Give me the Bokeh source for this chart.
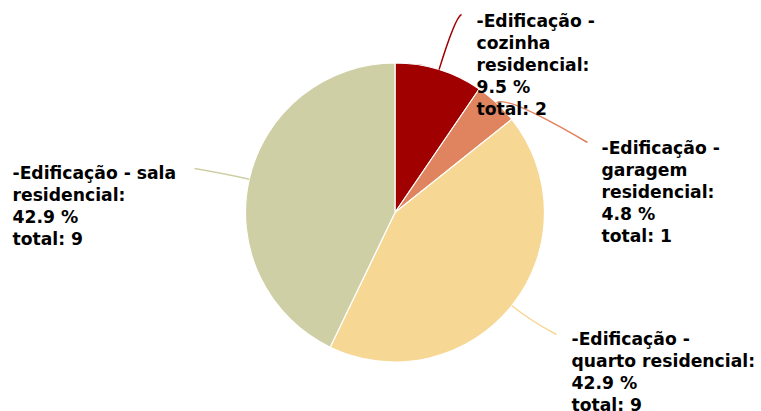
import math
from bokeh.plotting import figure
from bokeh.models import Range1d
from bokeh.embed import file_html
from bokeh.resources import INLINE
from bokeh.core.properties import value

# ---- data ----
categories = ["-Edificação - cozinha residencial", "-Edificação - garagem residencial",
              "-Edificação - quarto residencial", "-Edificação - sala residencial"]
totals = [2, 1, 9, 9]
colors = ["#a00000", "#e0835f", "#f7d794", "#cfcfa5"]
label_lines = [
    ["-Edificação -", "cozinha", "residencial:"],
    ["-Edificação -", "garagem", "residencial:"],
    ["-Edificação -", "quarto residencial:"],
    ["-Edificação - sala", "residencial:"],
]

# ---- layout (reference pixel coords, y down) ----
W, H = 761, 411
CX, CY, R = 394.5, 212, 149.5
label_pos = [(476, 20), (601, 147), (571, 338), (12, 172)]   # x, first baseline
conn_end = [(461, 14), (587, 142), (556, 334), (194, 168)]
conn_k = [55, 12, 25, 25]
LINE_H = 22

def fy(y):
    return H - y

p = figure(width=W, height=H, output_backend="svg", toolbar_location=None,
           x_range=Range1d(0, W), y_range=Range1d(0, H),
           min_border=0, outline_line_color=None, background_fill_color="white")
p.axis.visible = False
p.grid.visible = False

total = sum(totals)
cum = 0
for i, t in enumerate(totals):
    a0 = cum / total * 2 * math.pi
    a1 = (cum + t) / total * 2 * math.pi
    cum += t
    p.wedge(x=CX, y=fy(CY), radius=R,
            start_angle=math.pi / 2 - a0, end_angle=math.pi / 2 - a1,
            direction="clock", fill_color=colors[i],
            line_color="white", line_width=1.2)
    mid = (a0 + a1) / 2
    dx, dy = math.sin(mid), -math.cos(mid)
    sx, sy = CX + R * dx, CY + R * dy
    k = conn_k[i]
    cxp, cyp = sx + k * dx, sy + k * dy
    ex, ey = conn_end[i]
    p.quadratic(x0=[sx], y0=[fy(sy)], x1=[ex], y1=[fy(ey)], cx=[cxp], cy=[fy(cyp)],
                line_color=colors[i], line_width=1.5)

for i, t in enumerate(totals):
    pct = t / total * 100
    lines = label_lines[i] + [f"{pct:.1f} %", f"total: {t}"]
    lx, ly = label_pos[i]
    xs = [lx] * len(lines)
    ys = [fy(ly + j * LINE_H) for j in range(len(lines))]
    p.text(x=xs, y=ys, text=lines, text_font=value("DejaVu Sans"),
           text_font_style="bold", text_font_size="17.2px",
           text_color="black", text_baseline="alphabetic", text_align="left")

open("out.html", "w").write(file_html(p, INLINE))
